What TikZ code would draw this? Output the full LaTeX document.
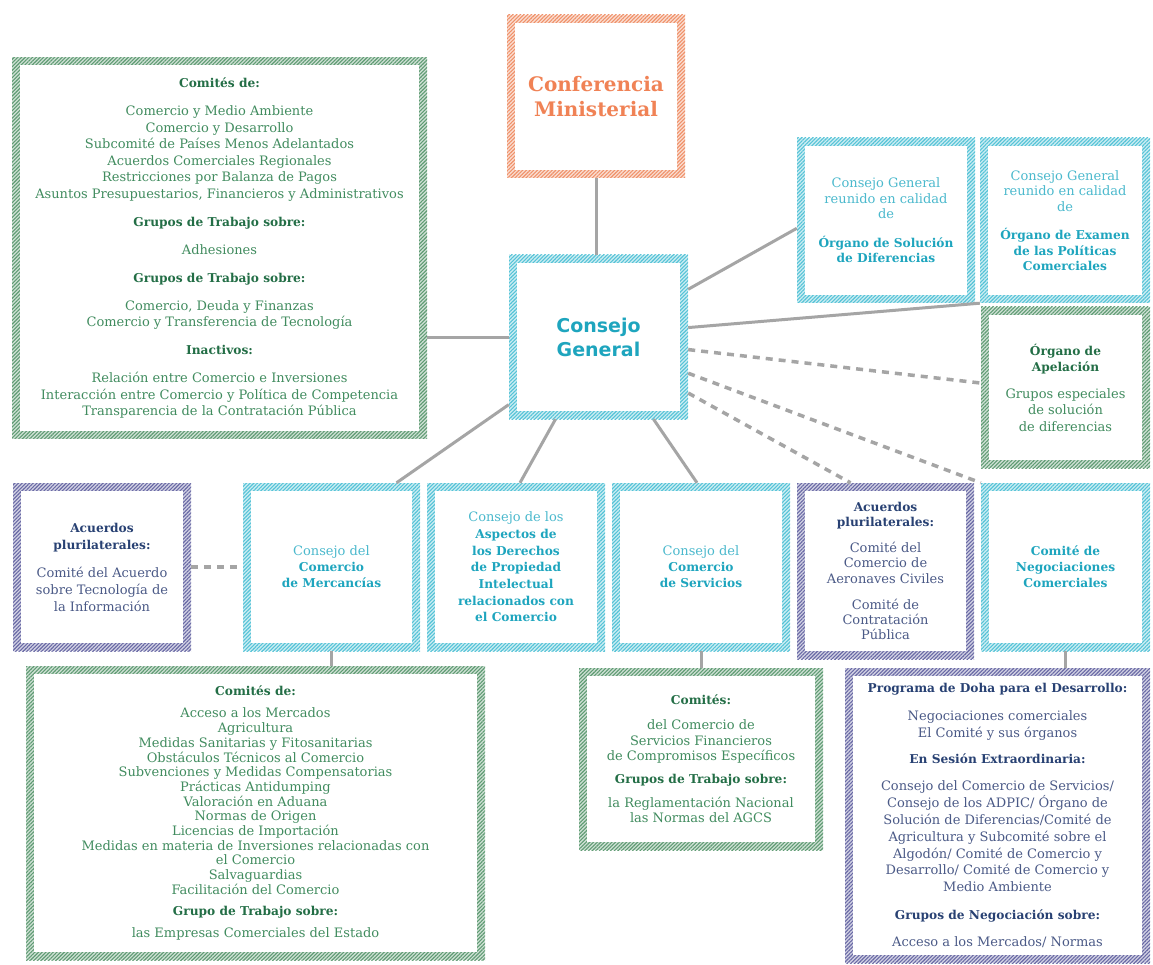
\documentclass[tikz,border=0pt]{standalone}
\usepackage{fontspec}
\setmainfont{DejaVu Serif}
\newfontfamily\sansfam{DejaVu Sans}
\usetikzlibrary{patterns.meta}
\definecolor{gBand}{RGB}{95,155,115}
\definecolor{cBand}{RGB}{85,195,215}
\definecolor{pBand}{RGB}{105,105,165}
\definecolor{oBand}{RGB}{240,145,105}
\definecolor{gTxt}{RGB}{65,140,95}
\definecolor{gHd}{RGB}{35,110,70}
\definecolor{cTxt}{RGB}{75,185,205}
\definecolor{cHd}{RGB}{30,165,190}
\definecolor{pTxt}{RGB}{75,90,135}
\definecolor{pHd}{RGB}{40,65,115}
\definecolor{oTxt}{RGB}{240,130,85}
\definecolor{linkgray}{RGB}{165,165,165}
\newcommand{\hdfont}{\fontsize{12.2}{15}\selectfont\bfseries}
\newcommand{\gh}[1]{{\color{gHd}\hdfont #1}}
\newcommand{\ch}[1]{{\color{cHd}\hdfont #1}}
\newcommand{\ph}[1]{{\color{pHd}\hdfont #1}}
\tikzset{
  band/.style={rectangle, inner sep=0pt, align=center,
    path picture={
      \fill[#1!30] (path picture bounding box.south west) rectangle (path picture bounding box.north east);
      \fill[pattern={Lines[angle=45,distance=2.6pt,line width=1.1pt]}, pattern color=#1]
        (path picture bounding box.south west) rectangle (path picture bounding box.north east);
      \fill[white] ([shift={(8pt,8pt)}]path picture bounding box.south west) rectangle ([shift={(-8pt,-8pt)}]path picture bounding box.north east);
    }},
  gbox/.style={band=gBand, text=gTxt},
  cbox/.style={band=cBand, text=cTxt},
  pbox/.style={band=pBand, text=pTxt},
  obox/.style={band=oBand, text=oTxt},
  body/.style={font=\fontsize{13}{16.5}\selectfont},
  mid/.style={font=\fontsize{13}{16}\selectfont},
  tight/.style={font=\fontsize{13}{15.2}\selectfont},
  solidlink/.style={draw=linkgray, line width=3pt},
  dashlink/.style={draw=linkgray, line width=3.5pt, dash pattern=on 7pt off 6pt},
}
\begin{document}
\begin{tikzpicture}[x=1pt,y=-1pt]
\useasboundingbox (0,0) rectangle (1153,965);
\fill[white] (0,0) rectangle (1153,965);

% top-left committees
\node[gbox, body, minimum width=415pt, minimum height=381pt] (comites) at (219.5,248) {%
\gh{Comités de:}\\[11.5pt]
Comercio y Medio Ambiente\\
Comercio y Desarrollo\\
Subcomité de Países Menos Adelantados\\
Acuerdos Comerciales Regionales\\
Restricciones por Balanza de Pagos\\
Asuntos Presupuestarios, Financieros y Administrativos\\[11.5pt]
\gh{Grupos de Trabajo sobre:}\\[11.5pt]
Adhesiones\\[11.5pt]
\gh{Grupos de Trabajo sobre:}\\[11.5pt]
Comercio, Deuda y Finanzas\\
Comercio y Transferencia de Tecnología\\[11.5pt]
\gh{Inactivos:}\\[11.5pt]
Relación entre Comercio e Inversiones\\
Interacción entre Comercio y Política de Competencia\\
Transparencia de la Contratación Pública};

% Conferencia Ministerial
\node[obox, font=\fontsize{20}{25}\selectfont\bfseries, minimum width=178pt, minimum height=163pt] (conf) at (596,96.5) {Conferencia\\Ministerial};

% Consejo General
\node[cbox, font=\fontsize{19}{24}\selectfont\sansfam\bfseries, text=cHd, minimum width=179pt, minimum height=164pt] (cg) at (598.5,337) {Consejo\\General};

% right top boxes
\node[cbox, font=\fontsize{13}{15.5}\selectfont, minimum width=178pt, minimum height=165pt] (osd) at (886,220.5) {%
Consejo General\\reunido en calidad\\de\\[13pt]
\ch{Órgano de Solución}\\\ch{de Diferencias}};
\node[cbox, font=\fontsize{13}{15.5}\selectfont, minimum width=170pt, minimum height=165pt] (oepc) at (1065,220.5) {%
Consejo General\\reunido en calidad\\de\\[13pt]
\ch{Órgano de Examen}\\\ch{de las Políticas}\\\ch{Comerciales}};
\node[gbox, body, minimum width=169pt, minimum height=161pt] (apel) at (1065.5,387.5) {%
\gh{Órgano de}\\\gh{Apelación}\\[10pt]
Grupos especiales\\de solución\\de diferencias};

% middle row
\node[pbox, font=\fontsize{13}{17}\selectfont, minimum width=178pt, minimum height=168pt] (plurL) at (102,567) {%
\ph{Acuerdos}\\\ph{plurilaterales:}\\[11pt]
Comité del Acuerdo\\sobre Tecnología de\\la Información};
\node[cbox, mid, minimum width=177pt, minimum height=168pt] (merc) at (331.5,567) {%
Consejo del\\\ch{Comercio}\\\ch{de Mercancías}};
\node[cbox, font=\fontsize{13}{16.7}\selectfont, minimum width=178pt, minimum height=168pt] (trips) at (516,567) {%
Consejo de los\\\ch{Aspectos de}\\\ch{los Derechos}\\\ch{de Propiedad}\\\ch{Intelectual}\\\ch{relacionados con}\\\ch{el Comercio}};
\node[cbox, mid, minimum width=178pt, minimum height=168pt] (serv) at (701,567) {%
Consejo del\\\ch{Comercio}\\\ch{de Servicios}};
\node[pbox, tight, minimum width=177pt, minimum height=176pt] (plurM) at (885.5,571) {%
\ph{Acuerdos}\\\ph{plurilaterales:}\\[11pt]
Comité del\\Comercio de\\Aeronaves Civiles\\[11pt]
Comité de\\Contratación\\Pública};
\node[cbox, mid, minimum width=169pt, minimum height=168pt] (tnc) at (1065.5,567) {%
\ch{Comité de}\\\ch{Negociaciones}\\\ch{Comerciales}};

% bottom boxes
\node[gbox, font=\fontsize{13}{14.7}\selectfont, minimum width=459pt, minimum height=294pt] (mercsub) at (255.5,813) {%
\gh{Comités de:}\\[8pt]
Acceso a los Mercados\\
Agricultura\\
Medidas Sanitarias y Fitosanitarias\\
Obstáculos Técnicos al Comercio\\
Subvenciones y Medidas Compensatorias\\
Prácticas Antidumping\\
Valoración en Aduana\\
Normas de Origen\\
Licencias de Importación\\
Medidas en materia de Inversiones relacionadas con\\
el Comercio\\
Salvaguardias\\
Facilitación del Comercio\\[6pt]
\gh{Grupo de Trabajo sobre:}\\[8pt]
las Empresas Comerciales del Estado};
\node[gbox, tight, minimum width=244pt, minimum height=182pt] (servsub) at (701,759) {%
\gh{Comités:}\\[10pt]
del Comercio de\\
Servicios Financieros\\
de Compromisos Específicos\\[8pt]
\gh{Grupos de Trabajo sobre:}\\[9pt]
la Reglamentación Nacional\\
las Normas del AGCS};
\node[pbox, font=\fontsize{13}{16.8}\selectfont, minimum width=305pt, minimum height=295pt] (tncsub) at (997.5,815.5) {%
\ph{Programa de Doha para el Desarrollo:}\\[11pt]
Negociaciones comerciales\\
El Comité y sus órganos\\[9pt]
\ph{En Sesión Extraordinaria:}\\[11pt]
Consejo del Comercio de Servicios/\\
Consejo de los ADPIC/ Órgano de\\
Solución de Diferencias/Comité de\\
Agricultura y Subcomité sobre el\\
Algodón/ Comité de Comercio y\\
Desarrollo/ Comité de Comercio y\\
Medio Ambiente\\[11pt]
\ph{Grupos de Negociación sobre:}\\[10pt]
Acceso a los Mercados/ Normas};

% connectors
\draw[solidlink] (conf.south) -- (conf.south |- cg.north);
\draw[solidlink] (comites.east |- cg.west) -- (cg.west);
\draw[solidlink] (cg.28) -- (osd.185);
\draw[solidlink] (cg.6) -- (oepc.south west);
\draw[dashlink] (cg.-8) -- (apel.177);
\draw[dashlink] (cg.-22) -- (tnc.north west);
\draw[dashlink] (cg.-32) -- ([xshift=-35pt]plurM.north);
\draw[solidlink] (cg.217) -- ([xshift=65pt]merc.north);
\draw[solidlink] ([xshift=-43pt]cg.south) -- ([xshift=4pt]trips.north);
\draw[solidlink] ([xshift=55pt]cg.south) -- ([xshift=-4pt]serv.north);
\draw[dashlink] (plurL.east) -- (merc.west);
\draw[solidlink] (merc.south) -- (merc.south |- mercsub.north);
\draw[solidlink] (serv.south) -- (serv.south |- servsub.north);
\draw[solidlink] (tnc.south) -- (tnc.south |- tncsub.north);
\end{tikzpicture}
\end{document}
